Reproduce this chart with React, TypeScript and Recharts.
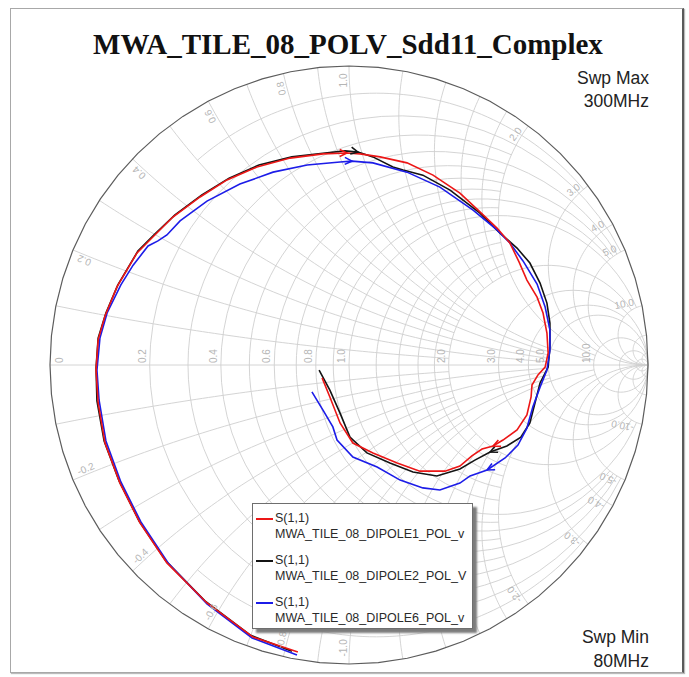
import React from 'react';
import { ComposedChart, Line, Scatter, XAxis, YAxis, Legend } from 'recharts';

type P = { x: number; y: number };

// S11 readings (Re, Im of the reflection coefficient), 80 MHz -> 300 MHz
const dipole1: [number, number][] = [
  [-0.171, -0.96], [-0.321, -0.91], [-0.475, -0.796], [-0.609, -0.662], [-0.699, -0.528],
  [-0.766, -0.395], [-0.816, -0.261], [-0.839, -0.127], [-0.846, -0.017], [-0.839, 0.084],
  [-0.816, 0.164], [-0.776, 0.261], [-0.709, 0.375], [-0.656, 0.428], [-0.589, 0.495],
  [-0.498, 0.562], [-0.408, 0.619], [-0.308, 0.662], [-0.197, 0.692], [-0.087, 0.706],
  [-0.007, 0.709], [0.037, 0.706], [0.104, 0.696], [0.194, 0.676], [0.281, 0.635],
  [0.371, 0.575], [0.438, 0.512], [0.495, 0.458], [0.538, 0.408], [0.569, 0.344],
  [0.595, 0.284], [0.629, 0.227], [0.649, 0.174], [0.662, 0.107], [0.666, 0.04],
  [0.656, -0.007], [0.632, -0.033], [0.612, -0.067], [0.609, -0.107], [0.595, -0.167],
  [0.562, -0.217], [0.515, -0.251], [0.482, -0.271], [0.445, -0.281], [0.411, -0.304],
  [0.371, -0.338], [0.321, -0.355], [0.237, -0.355], [0.161, -0.328], [0.08, -0.294],
  [0.013, -0.261], [-0.03, -0.194], [-0.064, -0.107], [-0.09, -0.043],
];

const dipole2: [number, number][] = [
  [-0.191, -0.957], [-0.331, -0.903], [-0.482, -0.789], [-0.612, -0.656], [-0.702, -0.522],
  [-0.769, -0.388], [-0.819, -0.254], [-0.843, -0.12], [-0.846, -0.01], [-0.839, 0.09],
  [-0.813, 0.174], [-0.773, 0.268], [-0.706, 0.381], [-0.652, 0.435], [-0.582, 0.502],
  [-0.492, 0.569], [-0.401, 0.625], [-0.301, 0.669], [-0.191, 0.696], [-0.08, 0.709],
  [-0.013, 0.716], [0.03, 0.712], [0.08, 0.696], [0.147, 0.662], [0.181, 0.652],
  [0.247, 0.635], [0.338, 0.585], [0.438, 0.508], [0.505, 0.441], [0.562, 0.391],
  [0.605, 0.341], [0.639, 0.274], [0.662, 0.207], [0.672, 0.14], [0.672, 0.06],
  [0.666, -0.007], [0.639, -0.06], [0.622, -0.127], [0.605, -0.194], [0.575, -0.241],
  [0.528, -0.271], [0.472, -0.291], [0.421, -0.318], [0.371, -0.348], [0.294, -0.371],
  [0.214, -0.358], [0.137, -0.328], [0.06, -0.294], [0.003, -0.241], [-0.03, -0.161],
  [-0.064, -0.084], [-0.1, -0.017],
];

const dipole6: [number, number][] = [
  [-0.174, -0.97], [-0.324, -0.913], [-0.475, -0.799], [-0.605, -0.662], [-0.696, -0.525],
  [-0.763, -0.391], [-0.813, -0.254], [-0.836, -0.117], [-0.843, -0.017], [-0.833, 0.09],
  [-0.809, 0.174], [-0.763, 0.268], [-0.722, 0.334], [-0.672, 0.398], [-0.639, 0.415],
  [-0.609, 0.435], [-0.565, 0.482], [-0.475, 0.548], [-0.365, 0.605], [-0.254, 0.645],
  [-0.14, 0.669], [-0.03, 0.679], [0.01, 0.682], [0.08, 0.676], [0.194, 0.645],
  [0.304, 0.595], [0.415, 0.518], [0.495, 0.452], [0.538, 0.408], [0.582, 0.348],
  [0.629, 0.271], [0.656, 0.194], [0.672, 0.117], [0.672, 0.05], [0.662, -0.017],
  [0.639, -0.074], [0.615, -0.14], [0.595, -0.211], [0.565, -0.268], [0.522, -0.311],
  [0.462, -0.351], [0.405, -0.371], [0.371, -0.395], [0.304, -0.418], [0.247, -0.411],
  [0.171, -0.385], [0.094, -0.341], [0.013, -0.308], [-0.04, -0.251], [-0.054, -0.207],
  [-0.087, -0.151], [-0.124, -0.09],
];

const SERIES = [
  { key: 'd2', name: 'MWA_TILE_08_DIPOLE2_POL_V', color: '#141414', pts: dipole2, arrows: [21, 41] },
  { key: 'd6', name: 'MWA_TILE_08_DIPOLE6_POL_v', color: '#1c1ce8', pts: dipole6, arrows: [22, 40] },
  { key: 'd1', name: 'MWA_TILE_08_DIPOLE1_POL_v', color: '#ec1616', pts: dipole1, arrows: [20, 42] },
];
const LEGEND_ORDER = ['d1', 'd2', 'd6'];

// grid: constant-resistance circles [r, |x| from, |x| to]
const RES_CIRCLES: [number, number, number][] = [
  [0.1, 0.5, 3],
  [0.2, 0, 5], [0.3, 0, 2], [0.4, 0, 5], [0.5, 0, 2], [0.6, 0, 5], [0.7, 0, 2], [0.8, 0, 5], [0.9, 0, 2], [1, 0, 10],
  [1.2, 0, 2], [1.4, 0, 2], [1.6, 0, 2], [1.8, 0, 2], [2, 0, 10],
  [3, 0, Infinity], [4, 0, 10], [5, 0, Infinity], [10, 0, Infinity], [20, 0, Infinity], [50, 0, Infinity],
];
// constant-reactance arcs [|x|, r up to]
const REACT_ARCS: [number, number][] = [
  [0.1, 2], [0.2, 5], [0.3, 2], [0.4, 5], [0.5, 2], [0.6, 5], [0.7, 2], [0.8, 5], [0.9, 2], [1, 10],
  [1.2, 2], [1.4, 2], [1.6, 2], [1.8, 2], [2, 10],
  [3, Infinity], [4, 10], [5, Infinity], [10, Infinity], [20, Infinity], [50, Infinity],
];

const R_TICKS = [0, 0.2, 0.4, 0.6, 0.8, 1, 2, 3, 4, 5, 10];
const X_TICKS = [0.2, 0.4, 0.6, 0.8, 1, 2, 3, 4, 5, 10];

const TWO_PI = Math.PI * 2;
const norm = (a: number) => ((a % TWO_PI) + TWO_PI) % TWO_PI;

const gamma = (r: number, x: number): P => {
  const den = (r + 1) * (r + 1) + x * x;
  return { x: (r * r + x * x - 1) / den, y: (2 * x) / den };
};

const sampleArc = (cx: number, cy: number, rho: number, a0: number, a1: number, n = 64): P[] => {
  const out: P[] = [];
  for (let i = 0; i <= n; i++) {
    const a = a0 + ((a1 - a0) * i) / n;
    out.push({ x: cx + rho * Math.cos(a), y: cy + rho * Math.sin(a) });
  }
  return out;
};

const resArc = (r: number, xa: number, xb: number): P[] => {
  const c = r / (1 + r);
  const rho = 1 / (1 + r);
  const ang = (x: number) => {
    if (x === Infinity) return 0;
    if (x === -Infinity) return TWO_PI;
    const g = gamma(r, x);
    return norm(Math.atan2(g.y, g.x - c));
  };
  return sampleArc(c, 0, rho, ang(xb), ang(xa));
};

const reactArc = (x: number, rMax: number): P[] => {
  const c = 1 / x;
  const ang = (r: number) => {
    if (r === Infinity) return 1.5 * Math.PI;
    const g = gamma(r, x);
    return norm(Math.atan2(g.y - c, g.x - 1));
  };
  return sampleArc(1, c, 1 / x, ang(0), ang(rMax));
};

const gridLines: P[][] = [];
RES_CIRCLES.forEach(([r, lo, hi]) => {
  if (lo === 0) gridLines.push(resArc(r, -hi, hi));
  else {
    gridLines.push(resArc(r, lo, hi));
    gridLines.push(resArc(r, -hi, -lo));
  }
});
REACT_ARCS.forEach(([x, rMax]) => {
  const arc = reactArc(x, rMax);
  gridLines.push(arc);
  gridLines.push(arc.map((p) => ({ x: p.x, y: -p.y })));
});
gridLines.push([{ x: -1, y: 0 }, { x: 1, y: 0 }]);
const outerCircle = resArc(0, -Infinity, Infinity);

const fmt = (v: number) => (v === 0 ? '0' : v.toFixed(1));

type LabelPt = P & { text: string; rot: number; anchor: string; dx: number; dy: number };
const tickLabels: LabelPt[] = [
  ...R_TICKS.map((r) => ({ ...gamma(r, 0), text: fmt(r), rot: -90, anchor: 'start', dx: 2, dy: r === 0 ? 13 : -4 })),
  ...X_TICKS.flatMap((x) =>
    [x, -x].map((v) => {
      const g = gamma(0, v);
      const th = Math.atan2(g.y, g.x);
      const phi = v > 0 ? th : th + Math.PI;
      return {
        x: 0.975 * g.x,
        y: 0.975 * g.y,
        text: fmt(v),
        rot: (-phi * 180) / Math.PI,
        anchor: v > 0 ? 'end' : 'start',
        dx: 0,
        dy: -2,
      };
    }),
  ),
];

const TickLabel = (props: any) => {
  const { cx, cy, payload } = props;
  if (cx == null || cy == null) return <g />;
  return (
    <text
      x={cx}
      y={cy}
      dx={payload.dx}
      dy={payload.dy}
      transform={`rotate(${payload.rot} ${cx} ${cy})`}
      textAnchor={payload.anchor}
      fontSize={10}
      fill="#b5b5b5"
      fontFamily='"Liberation Sans", Arial, sans-serif'
    >
      {payload.text}
    </text>
  );
};

// open chevron on the trace showing sweep direction
const arrowDot = (pts: P[], idx: number[], color: string) => (props: any) => {
  const { cx, cy, index } = props;
  if (!idx.includes(index) || cx == null) return <g key={`n${index}`} />;
  const a = pts[Math.max(0, index - 1)];
  const b = pts[Math.min(pts.length - 1, index + 1)];
  let ux = b.x - a.x;
  let uy = -(b.y - a.y);
  const l = Math.hypot(ux, uy) || 1;
  ux /= l;
  uy /= l;
  const L = 8;
  const c = Math.cos(0.45);
  const s = Math.sin(0.45);
  const p1x = cx - L * (ux * c - uy * s);
  const p1y = cy - L * (uy * c + ux * s);
  const p2x = cx - L * (ux * c + uy * s);
  const p2y = cy - L * (uy * c - ux * s);
  return (
    <path key={`a${index}`} d={`M${p1x},${p1y} L${cx},${cy} L${p2x},${p2y}`} stroke={color} strokeWidth={1.6} fill="none" />
  );
};

const renderLegend = () => (
  <div
    style={{
      width: 221,
      height: 126,
      boxSizing: 'border-box',
      background: '#fff',
      border: '1px solid #6e6e6e',
      boxShadow: '4px 4px 2px #7c7c7c',
      fontFamily: '"Liberation Sans", Arial, sans-serif',
      fontSize: 12.5,
      color: '#2a2a2a',
      position: 'relative',
    }}
  >
    {LEGEND_ORDER.map((k, i) => {
      const s = SERIES.find((e) => e.key === k)!;
      return (
        <div key={k} style={{ position: 'absolute', left: 3, top: 6 + i * 42, lineHeight: '16px', whiteSpace: 'nowrap' }}>
          <div>
            <span
              style={{ display: 'inline-block', width: 17, borderTop: `2px solid ${s.color}`, verticalAlign: 'middle', marginRight: 2 }}
            />
            S(1,1)
          </div>
          <div style={{ paddingLeft: 19 }}>{s.name}</div>
        </div>
      );
    })}
  </div>
);

export default function App() {
  return (
    <div style={{ position: 'absolute', left: 0, top: 0, width: 689, height: 677, background: '#fff' }}>
      <div
        style={{
          position: 'absolute',
          left: 10,
          top: 8,
          width: 671,
          height: 663,
          border: '1px solid #a8a8a8',
          borderRight: '2px solid #5a5a5a',
          boxShadow: '1px 1px 1px #bbb',
        }}
      />
      <ComposedChart
        width={689}
        height={677}
        margin={{ top: 66, right: 41, bottom: 13, left: 50 }}
        style={{ position: 'absolute', left: 0, top: 0 }}
      >
        <XAxis type="number" dataKey="x" domain={[-1, 1]} hide />
        <YAxis type="number" dataKey="y" domain={[-1, 1]} hide />
        {gridLines.map((pts, i) => (
          <Line
            key={`g${i}`}
            data={pts}
            dataKey="y"
            type="linear"
            stroke="#cfcfcf"
            strokeWidth={0.9}
            dot={false}
            activeDot={false}
            legendType="none"
            isAnimationActive={false}
          />
        ))}
        <Line
          data={outerCircle}
          dataKey="y"
          type="linear"
          stroke="#5c5c5c"
          strokeWidth={1.2}
          dot={false}
          activeDot={false}
          legendType="none"
          isAnimationActive={false}
        />
        <Scatter data={tickLabels} dataKey="y" shape={TickLabel} legendType="none" isAnimationActive={false} />
        {SERIES.map((s) => {
          const pts = s.pts.map(([x, y]) => ({ x, y }));
          return (
            <Line
              key={s.key}
              name={s.name}
              data={pts}
              dataKey="y"
              type="linear"
              stroke={s.color}
              strokeWidth={1.6}
              dot={arrowDot(pts, s.arrows, s.color)}
              activeDot={false}
              isAnimationActive={false}
            />
          );
        })}
        <Legend
          verticalAlign="middle"
          align="center"
          layout="horizontal"
          wrapperStyle={{ left: 252, top: 503, width: 221, height: 126 }}
          content={renderLegend}
        />
      </ComposedChart>
      <svg width={689} height={677} style={{ position: 'absolute', left: 0, top: 0, pointerEvents: 'none' }}>
        <text x={348} y={54} textAnchor="middle" fontSize={29} fontWeight="bold" fontFamily='"Liberation Serif", "Times New Roman", serif' fill="#111">
          MWA_TILE_08_POLV_Sdd11_Complex
        </text>
        <g fontFamily='"Liberation Sans", Arial, sans-serif' fontSize={17.5} fill="#222" textAnchor="end">
          <text x={649} y={84}>Swp Max</text>
          <text x={649} y={107}>300MHz</text>
          <text x={649} y={643}>Swp Min</text>
          <text x={649} y={667}>80MHz</text>
        </g>
      </svg>
    </div>
  );
}
